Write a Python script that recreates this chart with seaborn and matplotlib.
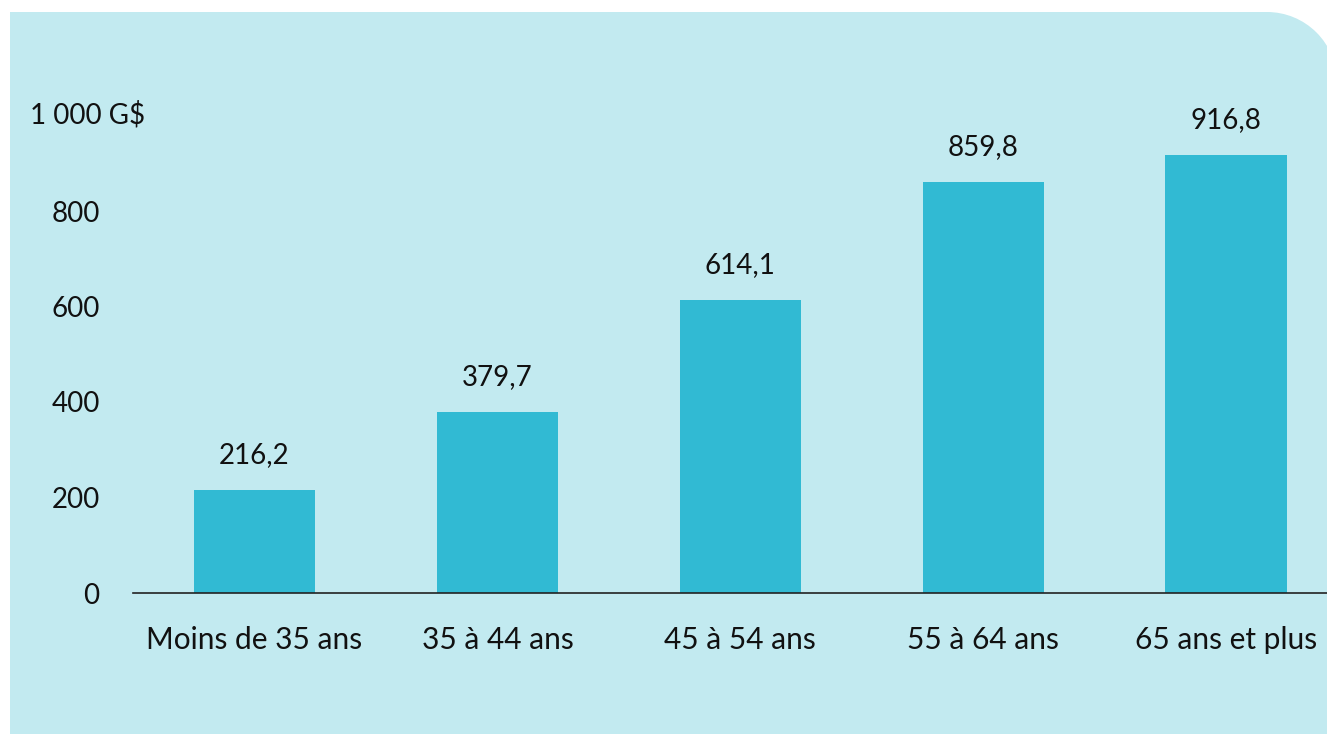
import matplotlib
matplotlib.use("Agg")
import matplotlib.pyplot as plt
from matplotlib.patches import Rectangle, Circle
from matplotlib.transforms import IdentityTransform
import seaborn as sns
import pandas as pd

# Data
categories = ["Moins de 35 ans", "35 à 44 ans", "45 à 54 ans", "55 à 64 ans", "65 ans et plus"]
values = [216.2, 379.7, 614.1, 859.8, 916.8]
ytick_values = [0, 200, 400, 600, 800]
ytick_labels = ["0", "200", "400", "600", "800"]
top_label = "1 000 G$"

BG = "#c2eaf0"
BAR = "#31bad3"
INK = "#111111"
FS = 20

sns.set_theme(style="white")
plt.rcParams["font.family"] = ["Lato", "DejaVu Sans"]

W, H = 1327, 734
fig = plt.figure(figsize=(W / 100, H / 100), dpi=100)
fig.patch.set_facecolor("white")

# Panel with a rounded top-right corner (pixel coordinates, origin bottom-left)
R = 70
left, top = 10, H - 12
right = 1337
ident = IdentityTransform()
fig.patches.append(Rectangle((left, -5), right - R - left, top + 5, transform=ident,
                             facecolor=BG, edgecolor="none", zorder=-10))
fig.patches.append(Rectangle((left, -5), right - left + 10, top - R + 5, transform=ident,
                             facecolor=BG, edgecolor="none", zorder=-10))
fig.patches.append(Circle((right - R, top - R), R, transform=ident,
                          facecolor=BG, edgecolor="none", zorder=-10))

ax_left, ax_bottom = 133 / W, (H - 593) / H
ax_top = (H - 115.5) / H
ax = fig.add_axes([ax_left, ax_bottom, 1 - ax_left, ax_top - ax_bottom])
ax.set_facecolor("none")
ax.set_zorder(1)

df = pd.DataFrame({"cat": categories, "val": values})
sns.barplot(data=df, x="cat", y="val", color=BAR, width=0.5, saturation=1,
            edgecolor="none", ax=ax)

ax.set_xlim(-0.5, 4.415)
ax.set_ylim(0, 1000)
ax.set_xlabel("")
ax.set_ylabel("")

for s in ["top", "right", "left"]:
    ax.spines[s].set_visible(False)
ax.spines["bottom"].set_color("#222222")
ax.spines["bottom"].set_linewidth(1.2)

ax.set_yticks(ytick_values)
ax.set_yticklabels(ytick_labels)
ax.tick_params(axis="y", length=0, pad=24, labelsize=FS, labelcolor=INK)
ax.tick_params(axis="x", length=0, pad=24, labelsize=21.5, labelcolor=INK)

for i, v in enumerate(values):
    ax.annotate(f"{v:.1f}".replace(".", ","), xy=(i, v), xytext=(0, 19.5),
                textcoords="offset points", ha="center", va="baseline",
                fontsize=FS, color=INK)

fig.text(30 / W, (H - 115) / H, top_label, ha="left", va="center",
         fontsize=FS, color=INK, zorder=2)

fig.savefig("out.png", dpi=100, facecolor=fig.get_facecolor())
